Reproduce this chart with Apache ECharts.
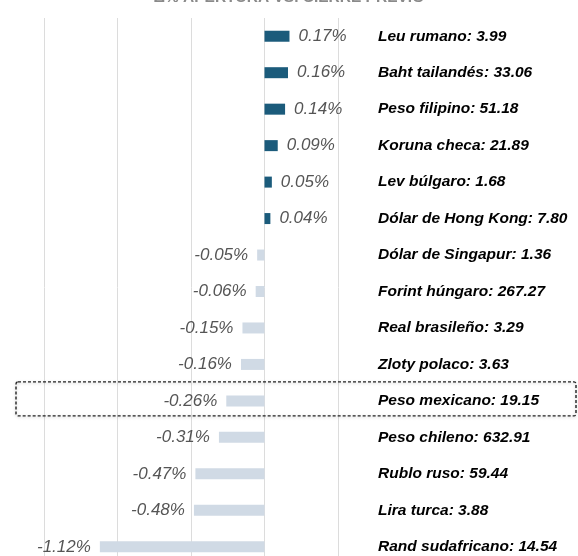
<!DOCTYPE html>
<html>
<head>
<meta charset="utf-8">
<script src="https://cdn.jsdelivr.net/npm/echarts@6/dist/echarts.min.js"></script>
<style>
html, body { margin: 0; padding: 0; background: #fff; }
#chart { width: 578px; height: 556px; }
</style>
</head>
<body>
<div id="chart"></div>
<script>
var currencies = ['Leu rumano', 'Baht tailandés', 'Peso filipino', 'Koruna checa', 'Lev búlgaro',
    'Dólar de Hong Kong', 'Dólar de Singapur', 'Forint húngaro', 'Real brasileño', 'Zloty polaco',
    'Peso mexicano', 'Peso chileno', 'Rublo ruso', 'Lira turca', 'Rand sudafricano'];
var rates = ['3.99', '33.06', '51.18', '21.89', '1.68', '7.80', '1.36', '267.27', '3.29', '3.63',
    '19.15', '632.91', '59.44', '3.88', '14.54'];
var changes = [0.17, 0.16, 0.14, 0.09, 0.05, 0.04, -0.05, -0.06, -0.15, -0.16, -0.26, -0.31, -0.47, -0.48, -1.12];
var highlight = 'Peso mexicano';

var chart = echarts.init(document.getElementById('chart'));

var barData = [];
for (var i in changes) {
    var v = changes[i];
    barData.push({
        value: v,
        itemStyle: {color: v >= 0 ? '#1b5b7b' : '#d0dae5'},
        label: {position: v >= 0 ? 'right' : 'left'}
    });
}

chart.setOption({
    animation: false,
    title: {
        text: 'Δ% APERTURA VS. CIERRE PREVIO',
        left: 'center',
        top: -10,
        padding: 0,
        textStyle: {fontFamily: 'Liberation Sans', fontSize: 15.5, fontWeight: 'bold', color: '#8a8a8a'}
    },
    grid: {left: 44, right: 240, top: 18, height: 547, outerBoundsMode: 'none'},
    xAxis: {
        type: 'value',
        min: -1.5,
        max: 0.5,
        interval: 0.5,
        axisLabel: {show: false},
        axisLine: {show: false},
        axisTick: {show: false},
        splitLine: {lineStyle: {color: '#dcdcdc', width: 1}}
    },
    yAxis: {
        type: 'category',
        inverse: true,
        position: 'right',
        data: currencies,
        axisLine: {show: false},
        axisTick: {show: false},
        axisLabel: {
            margin: 40,
            fontFamily: 'Liberation Sans',
            fontSize: 15.5,
            fontWeight: 'bold',
            fontStyle: 'italic',
            color: '#000',
            formatter: function(name, idx) {
                return name + ': ' + rates[idx];
            }
        }
    },
    series: [{
        type: 'bar',
        data: barData,
        barWidth: 11,
        label: {
            show: true,
            distance: 9,
            fontFamily: 'Liberation Sans',
            fontSize: 17,
            fontStyle: 'italic',
            color: '#555',
            formatter: function(p) {
                return p.value.toFixed(2) + '%';
            }
        }
    }]
});

// dashed box around the highlighted row
var cy = chart.convertToPixel({yAxisIndex: 0}, highlight);
chart.setOption({
    graphic: [{
        type: 'rect',
        shape: {x: 16, y: cy - 19, width: 560, height: 34, r: 2},
        style: {
            fill: 'none',
            stroke: '#222',
            lineWidth: 1.4,
            lineDash: [3, 2],
            shadowBlur: 3,
            shadowColor: 'rgba(0,0,0,0.25)',
            shadowOffsetY: 1
        },
        z: 10
    }]
});
</script>
</body>
</html>
